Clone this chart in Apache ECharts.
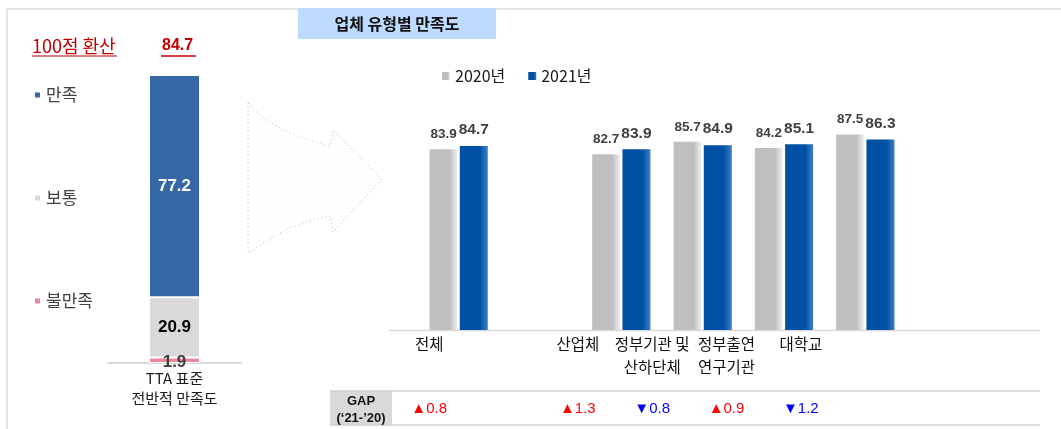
<!DOCTYPE html>
<html>
<head>
<meta charset="utf-8">
<script src="https://cdn.jsdelivr.net/npm/echarts@6/dist/echarts.min.js"></script>
<style>
html,body{margin:0;padding:0;background:#fff;}
#main{width:1061px;height:429px;}
</style>
</head>
<body>
<div id="main"></div>
<script>
// 왼쪽: TTA 표준 전반적 만족도
var leftNames = ['만족', '보통', '불만족'];
var leftValues = [77.2, 20.9, 1.9];
var leftColors = ['#3567A5', '#D9D9D9', '#E8899C'];
var leftCategory = ['TTA 표준\n전반적 만족도'];
var score100 = 84.7;

// 오른쪽: 업체 유형별 만족도
var years = ['2020년', '2021년'];
var categories = ['전체', '', '산업체', '정부기관 및\n산하단체', '정부출연\n연구기관', '대학교'];
var values2020 = [83.9, '-', 82.7, 85.7, 84.2, 87.5];
var values2021 = [84.7, '-', 83.9, 84.9, 85.1, 86.3];
var gapValues = [0.8, null, 1.3, -0.8, 0.9, -1.2];

var KR = '"Noto Sans CJK KR", sans-serif';
var NUM = '"Liberation Sans", Arial, sans-serif';

var myChart = echarts.init(document.getElementById('main'));

function grad(c1, c2) {
    return new echarts.graphic.LinearGradient(0, 0, 1, 0, [
        {offset: 0, color: c1}, {offset: 0.72, color: c1}, {offset: 1, color: c2}
    ]);
}

var gapLabels = gapValues.map(function (v) {
    if (v === null) return '';
    return v >= 0 ? '{up|▲' + v.toFixed(1) + '}' : '{down|▼' + Math.abs(v).toFixed(1) + '}';
});

// 왼쪽 누적 막대 (아래부터 불만족, 보통, 만족)
var leftSeries = [];
for (var i = leftNames.length - 1; i >= 0; i--) {
    leftSeries.push({
        name: leftNames[i],
        type: 'bar',
        stack: 'tta',
        xAxisIndex: 0,
        yAxisIndex: 0,
        barWidth: 51,
        data: [leftValues[i]],
        itemStyle: {color: leftColors[i], borderColor: '#fff', borderWidth: 1},
        label: {
            show: true,
            position: 'inside',
            fontFamily: NUM,
            fontWeight: 'bold',
            fontSize: 17,
            color: i === 0 ? '#fff' : (i === 1 ? '#000' : '#404040'),
            offset: i === 2 ? [0, 2] : [0, 0]
        }
    });
}

// 화살표 외곽선 (장식)
var arrowPts = [[248,103],[256,111],[265,119],[276,126],[290,133],[306,139],[330,146],[333,130],[382,179],
    [333,232],[330,216],[306,222],[290,228],[276,235],[265,242],[256,248],[248,253]];

var option = {
    animation: false,
    grid: [
        {left: 108, width: 133, top: 75, bottom: 66},
        {left: 418, right: 155, top: 83, bottom: 99},
        {left: 392, width: 446, top: 330, height: 1}
    ],
    legend: [
        {
            data: leftNames,
            orient: 'vertical',
            left: 33, top: 86,
            padding: 0,
            itemWidth: 7, itemHeight: 7,
            itemGap: 85,
            icon: 'rect',
            textStyle: {fontFamily: KR, fontSize: 17, color: '#404040', lineHeight: 18}
        },
        {
            data: years,
            left: 442, top: 67,
            padding: 0,
            itemWidth: 8, itemHeight: 8,
            itemGap: 23,
            icon: 'rect',
            textStyle: {fontFamily: KR, fontSize: 16, color: '#1a1a1a', lineHeight: 18}
        }
    ],
    xAxis: [
        {
            gridIndex: 0, type: 'category', data: leftCategory, position: 'bottom',
            axisLine: {lineStyle: {color: '#D9D9D9', width: 2}},
            axisTick: {show: false},
            axisLabel: {fontFamily: KR, fontSize: 15, color: '#1a1a1a', lineHeight: 20, margin: 5}
        },
        {
            gridIndex: 1, type: 'category', data: categories, position: 'bottom',
            axisLine: {show: false}, axisTick: {show: false}, axisLabel: {show: false}
        },
        {
            gridIndex: 2, type: 'category', data: categories, position: 'bottom',
            axisLine: {show: false}, axisTick: {show: false},
            axisLabel: {fontFamily: KR, fontSize: 15.5, color: '#111', lineHeight: 23.5, margin: 1, interval: 0}
        },
        {
            gridIndex: 2, type: 'category', data: gapLabels, position: 'bottom',
            axisLine: {show: false}, axisTick: {show: false},
            axisLabel: {
                interval: 0, margin: 69,
                rich: {
                    up: {fontFamily: NUM, fontSize: 15, color: '#FF0000', lineHeight: 18},
                    down: {fontFamily: NUM, fontSize: 15, color: '#0000FF', lineHeight: 18}
                }
            }
        }
    ],
    yAxis: [
        {gridIndex: 0, type: 'value', min: 0, max: 100, show: false},
        {gridIndex: 1, type: 'value', min: 40, max: 100, show: false},
        {gridIndex: 2, type: 'value', show: false}
    ],
    series: leftSeries.concat([
        {
            name: years[0],
            type: 'bar',
            xAxisIndex: 1, yAxisIndex: 1,
            barWidth: 28, barGap: '8%',
            data: values2020,
            itemStyle: {color: grad('#BFBFBF', '#F2F2F2')},
            label: {
                show: true, position: 'top', distance: 8,
                fontFamily: NUM, fontWeight: 'bold', fontSize: 13.5, color: '#404040'
            }
        },
        {
            name: years[1],
            type: 'bar',
            xAxisIndex: 1, yAxisIndex: 1,
            barWidth: 28, barGap: '8%',
            data: values2021,
            itemStyle: {color: grad('#0051A3', '#3F7DC9')},
            label: {
                show: true, position: 'top', distance: 8,
                fontFamily: NUM, fontWeight: 'bold', fontSize: 15.5, color: '#404040'
            }
        }
    ]),
    color: leftColors.concat(['#BFBFBF', '#0051A3']),
    graphic: [
        // 테두리
        {type: 'line', shape: {x1: 7, y1: 9, x2: 1061, y2: 9}, style: {stroke: '#D9D9D9', lineWidth: 1.5}},
        {type: 'line', shape: {x1: 7, y1: 9, x2: 7, y2: 429}, style: {stroke: '#D9D9D9', lineWidth: 1.5}},
        // 100점 환산
        {type: 'text', x: 32, y: 46, style: {text: '100점 환산', fontFamily: KR, fontSize: 18, fill: '#C00000', verticalAlign: 'middle'}},
        {type: 'line', shape: {x1: 32, y1: 56, x2: 117, y2: 56}, style: {stroke: '#C00000', lineWidth: 1}},
        {type: 'text', x: 162, y: 46, style: {text: String(score100), fontFamily: NUM, fontWeight: 'bold', fontSize: 16, fill: '#C00000', verticalAlign: 'middle'}},
        {type: 'line', shape: {x1: 161, y1: 56, x2: 196, y2: 56}, style: {stroke: '#C00000', lineWidth: 1.5}},
        // 제목 상자
        {type: 'rect', shape: {x: 298, y: 8, width: 198, height: 31}, style: {fill: '#BDDBFF'}},
        {type: 'text', x: 397, y: 24, style: {text: '업체 유형별 만족도', fontFamily: KR, fontWeight: 'bold', fontSize: 16, fill: '#111', align: 'center', verticalAlign: 'middle'}},
        // 화살표
        {
            type: 'polygon',
            shape: {points: arrowPts},
            style: {fill: '#FDFDFD', stroke: '#909090', lineWidth: 1, lineDash: [1, 3], opacity: 0.6}
        },
        // 오른쪽 축선, GAP 표
        {type: 'line', shape: {x1: 389, y1: 330.5, x2: 1040, y2: 330.5}, style: {stroke: '#D9D9D9', lineWidth: 1.5}},
        {type: 'rect', shape: {x: 330, y: 391, width: 62, height: 34}, style: {fill: '#D9D9D9'}},
        {type: 'line', shape: {x1: 330, y1: 391, x2: 1040, y2: 391}, style: {stroke: '#D0D0D0', lineWidth: 1.5}},
        {type: 'line', shape: {x1: 330, y1: 425, x2: 1040, y2: 425}, style: {stroke: '#D0D0D0', lineWidth: 1.5}},
        {type: 'text', x: 361, y: 401, style: {text: 'GAP', fontFamily: NUM, fontWeight: 'bold', fontSize: 13, fill: '#111', align: 'center', verticalAlign: 'middle'}},
        {type: 'text', x: 361, y: 418, style: {text: "(‘21-’20)", fontFamily: NUM, fontWeight: 'bold', fontSize: 13, fill: '#111', align: 'center', verticalAlign: 'middle'}}
    ]
};

myChart.setOption(option);
</script>
</body>
</html>
